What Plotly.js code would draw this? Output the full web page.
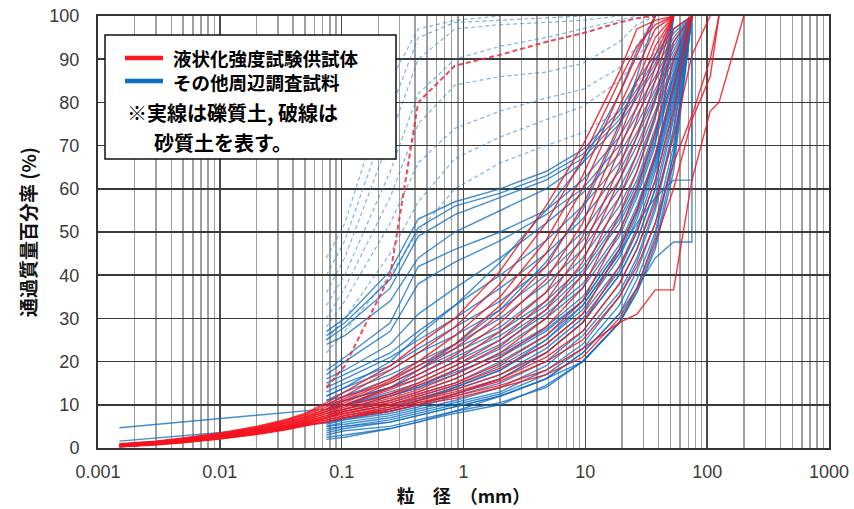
<!DOCTYPE html>
<html><head><meta charset="utf-8">
<script src="https://cdn.plot.ly/plotly-3.0.1.min.js"></script>
<style>html,body{margin:0;padding:0;background:#fff}#chart{width:854px;height:509px}</style>
</head><body><div id="chart"></div>
<script>
// ---- data ----
const sieveMm = [0.075, 0.106, 0.25, 0.425, 0.85, 2, 4.75, 9.5, 19, 26.5, 37.5, 53, 75, 106, 125, 200];
const hydroMm = [0.0015, 0.003, 0.005, 0.01, 0.02, 0.035, 0.05];
const stepSizesMm = [0.075, 0.106, 0.25, 0.425, 0.85, 2, 4.75, 9.5, 19, 26.5, 37.5, 53, 75, 75];

const xTickVals = [0.001, 0.01, 0.1, 1, 10, 100, 1000];
const xTickText = ['0.001', '0.01', '0.1', '1', '10', '100', '1000'];
const yTickVals = [0, 10, 20, 30, 40, 50, 60, 70, 80, 90, 100];

const legendLabels = ['液状化強度試験供試体', 'その他周辺調査試料'];
const noteLines = ['※実線は礫質土, 破線は', '砂質土を表す。'];

// red: liquefaction test specimens (gravelly, solid) - fines by hydrometer
const redFines = [
  [1.0, 1.6, 2.3, 3.5, 5.0, 6.6, 8.0],
  [0.9, 1.5, 2.2, 3.3, 4.8, 6.4, 7.8],
  [0.8, 1.4, 2.1, 3.2, 4.7, 6.2, 7.6],
  [0.8, 1.4, 2.0, 3.1, 4.5, 6.0, 7.3],
  [0.7, 1.3, 1.9, 3.0, 4.4, 5.8, 7.1],
  [0.7, 1.3, 1.9, 2.9, 4.3, 5.7, 6.9],
  [0.6, 1.2, 1.8, 2.8, 4.1, 5.5, 6.7],
  [0.6, 1.1, 1.7, 2.7, 4.0, 5.3, 6.5],
  [0.5, 1.1, 1.7, 2.6, 3.9, 5.2, 6.4],
  [0.5, 1.0, 1.6, 2.5, 3.8, 5.0, 6.2],
  [0.5, 1.0, 1.5, 2.5, 3.7, 4.9, 6.0],
  [0.4, 0.9, 1.5, 2.4, 3.6, 4.8, 5.8],
  [0.4, 0.9, 1.4, 2.3, 3.5, 4.7, 5.7],
  [0.4, 0.9, 1.4, 2.3, 3.4, 4.6, 5.6],
  [0.3, 0.8, 1.3, 2.2, 3.3, 4.5, 5.4],
  [0.3, 0.8, 1.3, 2.2, 3.3, 4.4, 5.3],
  [0.3, 0.8, 1.3, 2.1, 3.2, 4.3, 5.2],
  [0.3, 0.7, 1.2, 2.1, 3.1, 4.2, 5.1]
];
const redGravel = [
  [10.5, 13, 19, 24, 30, 41, 56, 70, 87, 97, 99, 100],
  [10, 12, 18, 22, 28, 38, 52, 67, 85, 93, 98, 100],
  [9.5, 11.5, 16, 20, 26, 35, 48, 63, 82, 91, 100],
  [9, 11, 15.5, 19, 24, 33, 45, 60, 79, 88, 97, 100],
  [9, 10.5, 15, 18, 23, 31, 42, 56, 75, 85, 95, 100],
  [8.5, 10, 14, 17, 21.5, 29, 39, 52, 72, 82, 93, 100],
  [8.5, 10, 13.5, 16, 20, 27, 36, 49, 69, 79, 91, 100],
  [8, 9.5, 12.5, 15, 19, 25, 34, 46, 65, 76, 88, 100],
  [8, 9, 12, 14.5, 18, 23.5, 32, 43, 62, 72, 85, 100],
  [7.5, 9, 11.5, 13.5, 17, 22, 30, 40, 58, 68, 81, 97, 100],
  [7.5, 8.5, 11, 13, 16, 21, 28, 37, 54, 64, 77, 94, 100],
  [7, 8.5, 10.5, 12.5, 15, 19.5, 26, 34, 50, 60, 73, 90, 100],
  [7, 8, 10, 12, 14.5, 18.5, 24, 31, 46, 55, 68, 84, 100],
  [7, 8, 10, 11.5, 13.5, 17, 22, 29, 42, 50, 62, 78, 100],
  [6.5, 7.5, 9.5, 11, 13, 16, 21, 27, 38, 46, 57, 72, 91, 100],
  [6.5, 7.5, 9, 10.5, 12.5, 15.5, 20, 25, 35, 42, 52, 66, 77, 90, 100],
  [6, 7, 9, 10.5, 12, 14.5, 18, 23, 29, 31, 36.6, 36.6, 62, 78, 80, 100],
  [6, 7, 8.5, 10, 11.5, 14, 17, 21, 30, 37, 48, 60, 76, 86, 100]
];
// red: liquefaction test specimen (sandy, dashed)
const redSand = [14, 19, 40, 80, 88.5, 91, 94, 96, 98.5, 99.5, 100];

// blue: other survey samples (gravelly, solid)
const blueGravel = [
  [27, 30, 41, 53, 57, 60, 64, 69, 78, 85, 91, 97, 100],
  [26, 29, 39, 51, 56, 59, 63, 68, 77, 83, 90, 96, 100],
  [25, 28, 37, 49, 54, 58, 62, 67, 76, 82, 89, 100],
  [24, 26, 34, 44, 50, 55, 60, 66, 75, 81, 88, 95, 100],
  [18, 21, 29, 42, 46, 50, 55, 62, 72, 79, 86, 94, 100],
  [17, 20, 27, 38, 43, 48, 54, 60, 70, 77, 85, 93, 100],
  [16, 18, 24, 31, 37, 44, 52, 59, 68, 75, 83, 92, 100],
  [15, 17, 22, 27, 33, 40, 48, 56, 66, 73, 82, 91, 100],
  [14, 16, 21, 25, 30, 37, 45, 53, 64, 72, 81, 90, 100],
  [13, 15, 19, 23, 28, 34, 42, 50, 62, 70, 80, 100],
  [12, 14, 20, 26, 33, 43, 55, 66, 82, 92, 100],
  [12, 14, 18, 22, 26, 32, 40, 48, 60, 68, 78, 89, 100],
  [11, 13, 17, 20, 24, 30, 38, 46, 58, 66, 77, 88, 100],
  [11, 12, 16, 19, 23, 28, 36, 44, 56, 64, 76, 100],
  [10, 12, 15, 18, 22, 27, 34, 42, 54, 62, 74, 87, 100],
  [10, 11, 14, 17, 21, 26, 33, 41, 53, 61, 73, 86, 100],
  [9, 10, 14, 18, 24, 32, 43, 55, 74, 86, 100],
  [9, 11, 14, 16, 20, 25, 32, 40, 52, 60, 72, 86, 100],
  [9, 10, 13, 15, 19, 24, 31, 38, 50, 59, 71, 85, 100],
  [8, 10, 12, 14, 18, 23, 30, 37, 49, 58, 70, 100],
  [8, 9, 12, 14, 17, 22, 28, 35, 47, 56, 68, 84, 100],
  [7.5, 9, 11, 13, 16, 21, 27, 34, 46, 55, 67, 83, 100],
  [7, 8.5, 10.5, 12.5, 15, 20, 26, 33, 45, 54, 66, 82, 100],
  [7, 8, 10, 12, 14.5, 19, 25, 32, 44, 53, 65, 81, 100],
  [6.5, 7.5, 9.5, 11.5, 14, 18, 24, 31, 42, 51, 64, 80, 100],
  [6, 7, 9, 11, 13.5, 17, 23, 30, 41, 50, 62, 79, 100],
  [6, 7, 8.5, 10, 12.5, 16, 22, 29, 40, 48, 60, 100],
  [5.5, 6.5, 8, 9.5, 12, 15, 20, 27, 38, 46, 58, 76, 100],
  [5, 6, 7.5, 9, 11, 14, 19, 26, 36, 44, 56, 74, 100],
  [5, 5.5, 7, 8.5, 10.5, 13, 18, 24, 35, 43, 55, 73, 100],
  [4.5, 5, 6.5, 8, 10, 12.5, 17, 23, 33, 41, 52, 70, 100],
  [4, 5, 6, 7.5, 9.5, 12, 16, 22, 31, 39, 50, 68, 100],
  [3, 4, 5, 6.5, 8.5, 10.5, 14, 20, 29, 36, 46, 64, 100],
  [2.5, 3, 4.5, 6, 8, 10, 14.5, 20, 29, 37, 49, 68, 100],
  [2, 2.5, 4.5, 6, 8.5, 12, 16, 20, 29, 36, 47, 66, 100]
];
const blueStep = [
  [3.5, 4.5, 6, 7.5, 9.5, 12, 16, 22, 31, 37, 44, 47.7, 47.7, 100],
  [6, 7, 9, 11, 14, 18, 25, 33, 45, 52, 58, 62, 62, 100]
];
const blueFinesHydro = [
  [4.7, 5.5, 6.0, 6.8, 7.6, 8.2, 8.6],
  [1.6, 2.3, 2.8, 3.5, 4.3, 5.0, 5.4]
];
const blueFinesGravel = [
  [9, 10, 12.5, 14.5, 17.5, 21.5, 27.5, 34, 46, 55, 67, 83, 100],
  [5.8, 6.6, 8.5, 10, 12.5, 16, 22, 29, 40, 48, 60, 77, 100]
];
// blue: other survey samples (sandy, dashed)
const blueSand = [
  [40, 48, 78, 95, 98.5, 99, 99.5, 100],
  [36, 44, 72, 90, 97, 98, 98.5, 99, 100],
  [33, 40, 64, 82, 90, 93, 95, 97, 99, 100],
  [30, 37, 58, 75, 84, 86, 87, 89, 94, 98, 100],
  [28, 34, 52, 66, 74, 78, 81, 83, 88, 93, 100],
  [25, 30, 45, 57, 67, 72, 76, 79, 85, 90, 97, 100],
  [22, 27, 40, 50, 60, 66, 70, 73, 78, 84, 92, 100],
  [44, 52, 85, 97, 99, 100]
];

// ---- build ----
const W = 854, H = 509, ML = 98, MR = 25, MT = 16, MB = 61;
const pw = W - ML - MR, ph = H - MT - MB;
const px = x => (x - ML) / pw;
const py = y => (H - MB - y) / ph;

const BLUE = 'rgba(15,110,195,0.78)';
const RED = 'rgba(245,20,30,0.85)';
const traces = [];
function add(xs, ys, line) {
  traces.push({type: 'scatter', mode: 'lines', x: xs, y: ys, line: line,
    hoverinfo: 'skip', showlegend: false});
}
const hs = hydroMm.concat(sieveMm);
blueSand.forEach(v => add(sieveMm.slice(0, v.length), v,
  {color: 'rgba(40,130,205,0.6)', width: 1.2, dash: '4px,3px'}));
blueGravel.forEach(v => add(sieveMm.slice(0, v.length), v, {color: BLUE, width: 1.4}));
blueStep.forEach(v => add(stepSizesMm.slice(0, v.length), v, {color: BLUE, width: 1.4}));
blueFinesHydro.forEach((f, i) => {
  const v = f.concat(blueFinesGravel[i]);
  add(hs.slice(0, v.length), v, {color: BLUE, width: 1.4});
});
redFines.forEach((f, i) => {
  const v = f.concat(redGravel[i]);
  add(hs.slice(0, v.length), v, {color: RED, width: 1.4});
});
add(sieveMm.slice(0, redSand.length), redSand, {color: 'rgba(235,40,60,0.85)', width: 2, dash: '5px,3px'});

const minorVals = [];
for (let k = -3; k < 3; k++) for (let m = 2; m <= 9; m++) minorVals.push(m * Math.pow(10, k));

const tickFont = {family: 'Liberation Sans, Arial, sans-serif', size: 18, color: '#3a3a3a'};
const cjk = 'Noto Sans CJK JP, sans-serif';
const boldFont = size => ({family: cjk, size: size, color: '#000', weight: 700});
const layout = {
  width: W, height: H,
  margin: {l: ML, r: MR, t: MT, b: MB, autoexpand: false},
  paper_bgcolor: '#fff', plot_bgcolor: '#fff',
  showlegend: false,
  xaxis: {
    type: 'log', range: [-3, 3], tickvals: xTickVals, ticktext: xTickText,
    showgrid: true, gridcolor: '#4a4a4a', gridwidth: 1.6,
    minor: {tickvals: minorVals, showgrid: true, gridcolor: '#a0a0a0', gridwidth: 1.4, ticks: ''},
    showline: true, mirror: true, linecolor: '#333', linewidth: 2,
    ticks: '', ticklabelstandoff: 6, tickfont: tickFont, zeroline: false,
    title: {text: '粒　径　（mm）', font: {family: cjk, size: 18, color: '#111', weight: 700}, standoff: 6},
    fixedrange: true
  },
  yaxis: {
    range: [0, 100], tickvals: yTickVals,
    showgrid: true, gridcolor: '#3a3a3a', gridwidth: 1.6,
    showline: true, mirror: true, linecolor: '#333', linewidth: 2,
    ticks: '', ticklabelstandoff: 13, tickfont: tickFont, zeroline: false,
    title: {text: '通過質量百分率 (%)', font: {family: cjk, size: 19, color: '#111', weight: 700}, standoff: 8},
    fixedrange: true
  },
  shapes: [
    {type: 'rect', xref: 'paper', yref: 'paper', x0: px(105), x1: px(396), y0: py(159), y1: py(35),
      fillcolor: '#fff', line: {color: '#111', width: 1.5}, layer: 'above'},
    {type: 'line', xref: 'paper', yref: 'paper', x0: px(125), x1: px(163), y0: py(58), y1: py(58),
      line: {color: 'rgb(250,25,35)', width: 4.5}, layer: 'above'},
    {type: 'line', xref: 'paper', yref: 'paper', x0: px(125), x1: px(163), y0: py(81), y1: py(81),
      line: {color: 'rgb(10,110,195)', width: 4.5}, layer: 'above'}
  ],
  annotations: [
    {text: legendLabels.join('<br>'), x: px(172), y: py(70), font: boldFont(18.5)},
    {text: noteLines[0], x: px(126), y: py(112), font: boldFont(20)},
    {text: noteLines[1], x: px(153), y: py(142), font: boldFont(20)}
  ].map(a => Object.assign({xref: 'paper', yref: 'paper', xanchor: 'left', yanchor: 'middle',
    align: 'left', showarrow: false, borderpad: 0}, a))
};
Plotly.newPlot('chart', traces, layout, {staticPlot: true, displayModeBar: false});
</script>
</body></html>
